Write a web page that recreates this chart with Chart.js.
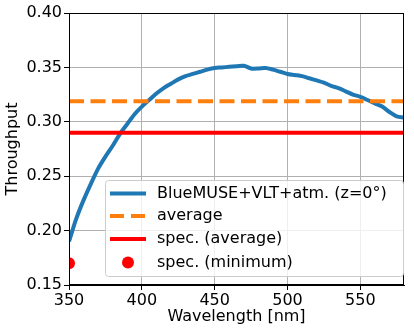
<!DOCTYPE html>
<html lang="en">
<head>
    <meta charset="UTF-8">
    <title>Throughput</title>
    <script src="https://cdn.jsdelivr.net/npm/chart.js"></script>
    <style>
        body {
            margin: 0;
            padding: 0;
            background: #fff;
        }

        #chartContainer {
            width: 414px;
            height: 333px;
        }
    </style>
</head>
<body>
    <div id="chartContainer">
        <canvas id="chart"></canvas>
    </div>

    <script>
        // Data
        const wavelength = [350, 355, 360, 365, 370, 375, 380, 385, 390, 395,
                            400, 405, 410, 415, 420, 425, 430, 435, 440, 445,
                            450, 455, 460, 465, 470, 475, 480, 485, 490, 495,
                            500, 505, 510, 515, 520, 525, 530, 535, 540, 545,
                            550, 555, 560, 565, 570, 575, 580];
        const throughput = [0.190, 0.211, 0.228, 0.243, 0.257, 0.268, 0.278, 0.289, 0.298, 0.307,
                            0.314, 0.320, 0.326, 0.331, 0.335, 0.339, 0.342, 0.344, 0.346, 0.348,
                            0.3495, 0.350, 0.3505, 0.351, 0.3515, 0.349, 0.349, 0.3495, 0.348, 0.346,
                            0.344, 0.343, 0.342, 0.340, 0.338, 0.336, 0.333, 0.331, 0.328, 0.325,
                            0.323, 0.320, 0.317, 0.314, 0.309, 0.305, 0.304];
        const averageValue = 0.319;
        const specAverage = 0.290;
        const specMinimum = { x: 350, y: 0.170 };

        const xRange = [350, 580];
        const xTicks = [350, 400, 450, 500, 550];
        const yTicks = [0.15, 0.20, 0.25, 0.30, 0.35, 0.40];

        const legendLabels = ['BlueMUSE+VLT+atm. (z=0°)', 'average', 'spec. (average)', 'spec. (minimum)'];

        const FONT = "'DejaVu Sans', sans-serif";

        // Frame on top and right, legend box inside plot
        const framePlugin = {
            id: 'frame',
            afterDraw(chart) {
                const { ctx, chartArea: a } = chart;
                ctx.save();
                ctx.strokeStyle = '#000';
                ctx.lineWidth = 1;
                ctx.strokeRect(a.left + 0.5, a.top + 0.5, a.right - a.left - 1, a.bottom - a.top - 1);

                // legend
                const bx = 105.5, by = 180.5, bw = 298, bh = 96;
                ctx.fillStyle = 'rgba(255,255,255,0.8)';
                ctx.strokeStyle = '#cccccc';
                ctx.beginPath();
                ctx.roundRect(bx, by, bw, bh, 3);
                ctx.fill();
                ctx.stroke();

                const rows = [193.5, 216, 239, 262.5];
                const x0 = 110, x1 = 146, tx = 157;
                ctx.lineWidth = 4;
                ctx.lineCap = 'butt';
                // blue
                ctx.strokeStyle = '#1f77b4';
                ctx.beginPath(); ctx.moveTo(x0, rows[0]); ctx.lineTo(x1, rows[0]); ctx.stroke();
                // orange dashed
                ctx.strokeStyle = '#ff7f0e';
                ctx.setLineDash([14, 7]);
                ctx.beginPath(); ctx.moveTo(x0, rows[1]); ctx.lineTo(x1, rows[1]); ctx.stroke();
                ctx.setLineDash([]);
                // red
                ctx.strokeStyle = '#ff0000';
                ctx.beginPath(); ctx.moveTo(x0, rows[2]); ctx.lineTo(x1, rows[2]); ctx.stroke();
                // red dot
                ctx.fillStyle = '#ff0000';
                ctx.beginPath(); ctx.arc((x0 + x1) / 2, rows[3], 6, 0, Math.PI * 2); ctx.fill();

                ctx.fillStyle = '#000';
                ctx.font = '16px ' + FONT;
                ctx.textBaseline = 'middle';
                ctx.textAlign = 'left';
                legendLabels.forEach((t, i) => ctx.fillText(t, tx, rows[i]));
                ctx.restore();
            }
        };

        const ctx = document.getElementById('chart').getContext('2d');

        new Chart(ctx, {
            type: 'line',
            data: {
                datasets: [
                    {
                        label: legendLabels[0],
                        data: wavelength.map((w, i) => ({ x: w, y: throughput[i] })),
                        borderColor: '#1f77b4',
                        borderWidth: 4,
                        pointRadius: 0,
                        tension: 0.3,
                        order: 3
                    },
                    {
                        label: legendLabels[1],
                        data: xRange.map(w => ({ x: w, y: averageValue })),
                        borderColor: '#ff7f0e',
                        borderWidth: 4,
                        borderDash: [15, 6.5],
                        pointRadius: 0,
                        order: 2
                    },
                    {
                        label: legendLabels[2],
                        data: xRange.map(w => ({ x: w, y: specAverage })),
                        borderColor: '#ff0000',
                        borderWidth: 4,
                        pointRadius: 0,
                        order: 1
                    },
                    {
                        label: legendLabels[3],
                        data: [specMinimum],
                        showLine: false,
                        pointRadius: 6,
                        pointBackgroundColor: '#ff0000',
                        pointBorderWidth: 0,
                        order: 0
                    }
                ]
            },
            options: {
                responsive: true,
                maintainAspectRatio: false,
                animation: false,
                layout: {
                    padding: { left: 0, top: 13, right: 10, bottom: 0 }
                },
                plugins: {
                    legend: { display: false },
                    tooltip: { enabled: false }
                },
                scales: {
                    x: {
                        type: 'linear',
                        min: xRange[0],
                        max: xRange[1],
                        afterBuildTicks: s => { s.ticks = xTicks.map(v => ({ value: v })); },
                        afterFit: s => { s.height = 48; },
                        grid: {
                            color: '#b0b0b0',
                            lineWidth: 1,
                            tickLength: 5,
                            tickColor: '#000'
                        },
                        border: { display: true, color: '#000', width: 1 },
                        ticks: {
                            color: '#000',
                            padding: 1,
                            maxRotation: 0,
                            font: { family: FONT, size: 16 }
                        },
                        title: {
                            display: true,
                            text: 'Wavelength [nm]',
                            color: '#000',
                            padding: { top: 0, bottom: 7 },
                            font: { family: FONT, size: 16 }
                        }
                    },
                    y: {
                        type: 'linear',
                        min: yTicks[0],
                        max: yTicks[yTicks.length - 1],
                        afterBuildTicks: s => { s.ticks = yTicks.map(v => ({ value: v })); },
                        afterFit: s => { s.width = 69; },
                        grid: {
                            color: '#b0b0b0',
                            lineWidth: 1,
                            tickLength: 5,
                            tickColor: '#000'
                        },
                        border: { display: true, color: '#000', width: 1 },
                        ticks: {
                            color: '#000',
                            padding: 2,
                            font: { family: FONT, size: 16 },
                            callback: v => v.toFixed(2)
                        },
                        title: {
                            display: true,
                            text: 'Throughput',
                            color: '#000',
                            padding: { top: 3, bottom: 0 },
                            font: { family: FONT, size: 16 }
                        }
                    }
                }
            },
            plugins: [framePlugin]
        });
    </script>
</body>
</html>
